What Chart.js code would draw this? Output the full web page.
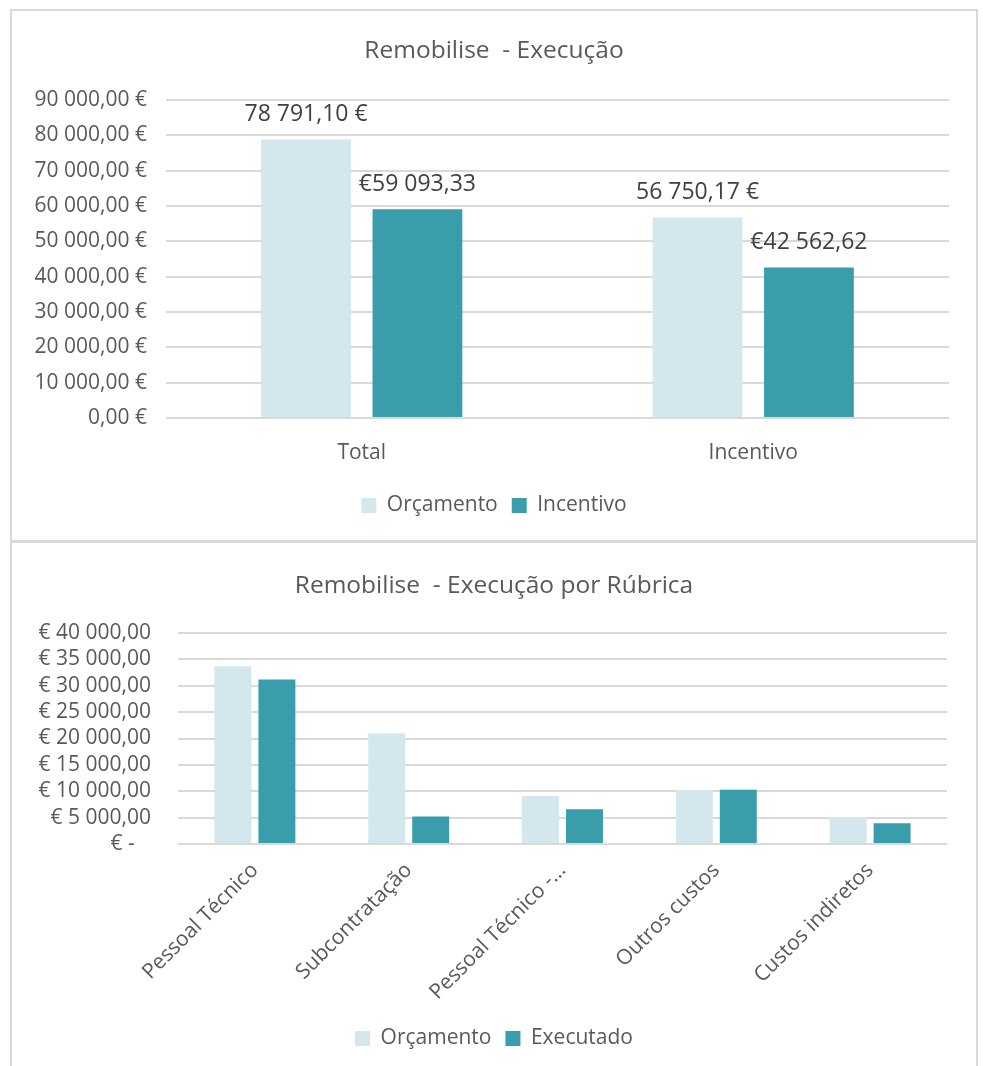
<!DOCTYPE html>
<html>
<head>
<meta charset="utf-8">
<script src="https://cdn.jsdelivr.net/npm/chart.js@4.4.1/dist/chart.umd.min.js"></script>
<style>
  html, body { margin: 0; padding: 0; background: #ffffff; }
  body { width: 983px; height: 1066px; position: relative; overflow: hidden; }
  .box { position: absolute; left: 10px; width: 964px; border: 2px solid #d9d9d9; }
  #b1 { top: 9px; height: 529px; }
  #b2 { top: 541px; height: 600px; }
  canvas { position: absolute; left: 0; }
  #c1 { top: 0; }
  #c2 { top: 545px; }
</style>
</head>
<body>
<div class="box" id="b1"></div>
<div class="box" id="b2"></div>
<canvas id="c1" width="983" height="540"></canvas>
<canvas id="c2" width="983" height="521"></canvas>
<script>
// ---------- Data: chart 1 ----------
const categories1 = ['Total', 'Incentivo'];
const orcamento1 = [78791.10, 56750.17];
const incentivo1 = [59093.33, 42562.62];
const yTickValues1 = [0, 10000, 20000, 30000, 40000, 50000, 60000, 70000, 80000, 90000];
const yTickLabels1 = ['0,00 €', '10 000,00 €', '20 000,00 €', '30 000,00 €', '40 000,00 €',
                      '50 000,00 €', '60 000,00 €', '70 000,00 €', '80 000,00 €', '90 000,00 €'];

// ---------- Data: chart 2 ----------
const categories2 = ['Pessoal Técnico', 'Subcontratação', 'Pessoal Técnico -...', 'Outros custos', 'Custos indiretos'];
const orcamento2 = [33700, 20950, 9100, 10250, 5100];
const executado2 = [31200, 5200, 6600, 10300, 3950];
const yTickValues2 = [0, 5000, 10000, 15000, 20000, 25000, 30000, 35000, 40000];
const yTickLabels2 = ['€ -   ', '€ 5 000,00', '€ 10 000,00', '€ 15 000,00', '€ 20 000,00',
                      '€ 25 000,00', '€ 30 000,00', '€ 35 000,00', '€ 40 000,00'];

const FONT = "'Open Sans', 'Noto Sans', 'DejaVu Sans', sans-serif";
const TEXT = '#595959';
const LIGHT = '#d3e7ed';
const TEAL = '#3a9dab';
const GRID = '#d9d9d9';

function fmtNum(v) {
  const s = v.toFixed(2).split('.');
  const int = s[0].replace(/\B(?=(\d{3})+(?!\d))/g, ' ');
  return int + ',' + s[1];
}

const valueLabels = {
  id: 'valueLabels',
  afterDatasetsDraw(chart) {
    const ctx = chart.ctx;
    ctx.save();
    ctx.font = '23px ' + FONT;
    ctx.fillStyle = '#404040';
    ctx.textAlign = 'center';
    ctx.textBaseline = 'middle';
    chart.data.datasets.forEach((ds, i) => {
      const meta = chart.getDatasetMeta(i);
      meta.data.forEach((bar, j) => {
        const v = ds.data[j];
        const txt = i === 0 ? fmtNum(v) + ' €' : '€' + fmtNum(v);
        ctx.fillText(txt, bar.x, bar.y - 25);
      });
    });
    ctx.restore();
  }
};

// centre title and legend over the bordered frame rather than the padded area
const frameCenter = {
  id: 'frameCenter',
  afterLayout(chart) {
    [chart.titleBlock, chart.legend].forEach(b => {
      if (b) { b.left = 10; b.right = 978; }
    });
  }
};

Chart.defaults.font.family = FONT;
Chart.defaults.color = TEXT;

new Chart(document.getElementById('c1'), {
  type: 'bar',
  data: {
    labels: categories1,
    datasets: [
      { label: 'Orçamento', data: orcamento1, backgroundColor: LIGHT, borderWidth: 0,
        categoryPercentage: 0.569, barPercentage: 0.806 },
      { label: 'Incentivo', data: incentivo1, backgroundColor: TEAL, borderWidth: 0,
        categoryPercentage: 0.569, barPercentage: 0.806 }
    ]
  },
  options: {
    responsive: false,
    animation: false,
    devicePixelRatio: 1,
    layout: { padding: { top: 10, right: 34, bottom: 14, left: 0 } },
    plugins: {
      title: {
        display: true, text: 'Remobilise  - Execução', color: TEXT,
        font: { family: FONT, size: 24.5, weight: 'normal' },
        padding: { top: 26.3, bottom: 34.3 }
      },
      legend: {
        position: 'bottom',
        labels: { boxWidth: 15, boxHeight: 15, padding: 14, color: TEXT,
                  font: { family: FONT, size: 21 } }
      },
      tooltip: { enabled: false }
    },
    scales: {
      x: {
        grid: { display: false },
        border: { display: false },
        ticks: { color: TEXT, font: { family: FONT, size: 21 }, padding: 14 },
        afterFit: s => { s.height = 63; }
      },
      y: {
        min: 0, max: 90000,
        grid: { color: GRID, lineWidth: 2, drawTicks: false },
        border: { display: false },
        ticks: {
          stepSize: 10000, autoSkip: false, padding: 19, color: TEXT,
          font: { family: FONT, size: 21 },
          callback: v => yTickLabels1[yTickValues1.indexOf(v)]
        },
        afterFit: s => { s.width = 166; }
      }
    }
  },
  plugins: [valueLabels, frameCenter]
});

new Chart(document.getElementById('c2'), {
  type: 'bar',
  data: {
    labels: categories2,
    datasets: [
      { label: 'Orçamento', data: orcamento2, backgroundColor: LIGHT, borderWidth: 0,
        categoryPercentage: 0.572, barPercentage: 0.84 },
      { label: 'Executado', data: executado2, backgroundColor: TEAL, borderWidth: 0,
        categoryPercentage: 0.572, barPercentage: 0.84 }
    ]
  },
  options: {
    responsive: false,
    animation: false,
    devicePixelRatio: 1,
    layout: { padding: { top: 10, right: 36, bottom: 7, left: 0 } },
    plugins: {
      title: {
        display: true, text: 'Remobilise  - Execução por Rúbrica', color: TEXT,
        font: { family: FONT, size: 24.5, weight: 'normal' },
        padding: { top: 16.3, bottom: 32.3 }
      },
      legend: {
        position: 'bottom',
        labels: { boxWidth: 15, boxHeight: 15, padding: 14, color: TEXT,
                  font: { family: FONT, size: 21 } }
      },
      tooltip: { enabled: false }
    },
    scales: {
      x: {
        grid: { display: false },
        border: { display: false },
        ticks: { color: TEXT, font: { family: FONT, size: 21 }, padding: 6,
                 minRotation: 45, maxRotation: 45, autoSkip: false },
        afterFit: s => { s.height = 170; }
      },
      y: {
        min: 0, max: 40000,
        grid: { color: GRID, lineWidth: 2, drawTicks: false },
        border: { display: false },
        ticks: {
          stepSize: 5000, autoSkip: false, padding: 27, color: TEXT,
          font: { family: FONT, size: 21 },
          callback: v => yTickLabels2[yTickValues2.indexOf(v)]
        },
        afterFit: s => { s.width = 178; }
      }
    }
  },
  plugins: [frameCenter]
});
</script>
</body>
</html>
